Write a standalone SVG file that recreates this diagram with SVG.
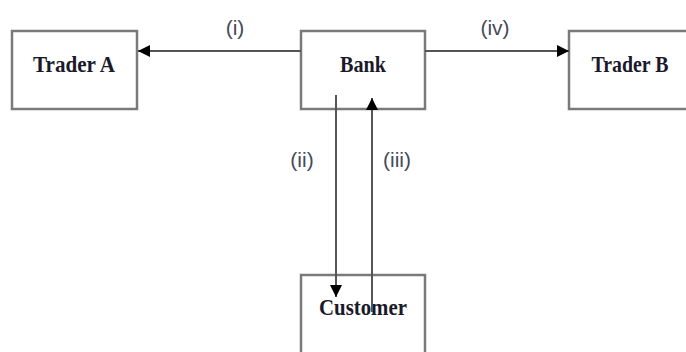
<svg xmlns="http://www.w3.org/2000/svg" width="686" height="352" viewBox="0 0 686 352">
<style>
.box{fill:#fff;stroke:#7a7a7a;stroke-width:2.5}
.node{font-family:"Liberation Serif","Times New Roman",serif;font-weight:bold;font-size:23px;fill:#1a1a2a;text-anchor:middle}
.lbl{font-family:"Liberation Sans",Arial,sans-serif;font-size:21px;fill:#444a5a;text-anchor:middle}
.conn{stroke:#555;stroke-width:2;fill:none}
</style>
<defs>
<marker id="ah" viewBox="0 0 10 10" refX="10" refY="5" markerWidth="12" markerHeight="12" markerUnits="userSpaceOnUse" orient="auto">
<path d="M0,0 L10,5 L0,10 Z" fill="#000"/>
</marker>
</defs>
<g id="traderA">
<rect class="box" x="12" y="31" width="125" height="78"/>
<text class="node" x="74" y="72" textLength="82" lengthAdjust="spacingAndGlyphs">Trader A</text>
</g>
<g id="bank">
<rect class="box" x="301" y="31" width="124" height="78"/>
<text class="node" x="363" y="72" textLength="46" lengthAdjust="spacingAndGlyphs">Bank</text>
</g>
<g id="traderB">
<path class="box" d="M686,31 H569 V109 H686"/>
<text class="node" x="630" y="72" textLength="77" lengthAdjust="spacingAndGlyphs">Trader B</text>
</g>
<g id="customer">
<path class="box" d="M301,352 V275 H425 V352"/>
<text class="node" x="363" y="315" textLength="88" lengthAdjust="spacingAndGlyphs">Customer</text>
</g>
<g id="connectors">
<line class="conn" x1="301" y1="51" x2="138" y2="51" marker-end="url(#ah)"/>
<line class="conn" x1="425" y1="51" x2="569" y2="51" marker-end="url(#ah)"/>
<line class="conn" x1="336" y1="95" x2="336" y2="297" marker-end="url(#ah)"/>
<line class="conn" x1="372" y1="312" x2="372" y2="98" marker-end="url(#ah)"/>
<text class="lbl" x="235" y="35">(i)</text>
<text class="lbl" x="495" y="35">(iv)</text>
<text class="lbl" x="302" y="167">(ii)</text>
<text class="lbl" x="397" y="167">(iii)</text>
</g>
</svg>
